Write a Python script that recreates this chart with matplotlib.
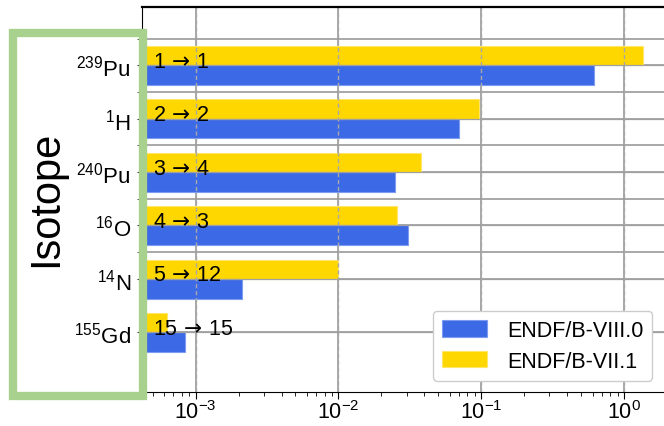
import matplotlib
matplotlib.use('Agg')
import matplotlib.pyplot as plt
import numpy as np
from matplotlib.patches import Rectangle

plt.rcParams['font.family'] = ['Liberation Sans', 'DejaVu Sans']
plt.rcParams['mathtext.fontset'] = 'custom'
plt.rcParams['mathtext.rm'] = 'Liberation Sans'
plt.rcParams['mathtext.it'] = 'Liberation Sans:italic'
plt.rcParams['mathtext.bf'] = 'Liberation Sans:bold'
plt.rcParams['mathtext.sf'] = 'DejaVu Sans'

# ---------------- data ----------------
isotopes = [r'$^{239}$Pu', r'$^{1}$H', r'$^{240}$Pu', r'$^{16}$O', r'$^{14}$N', r'$^{155}$Gd']
endf80 = [0.614, 0.070, 0.0247, 0.0307, 0.00212, 0.00085]
endf71 = [1.36, 0.097, 0.0379, 0.0256, 0.0100, 0.00063]
rank_labels = ['1 → 1', '2 → 2', '3 → 4', '4 → 3', '5 → 12', '15 → 15']
series_names = ['ENDF/B-VIII.0', 'ENDF/B-VII.1']
decades = [1e-3, 1e-2, 1e-1, 1e0]
ylabel_text = 'Isotope'

BLUE = '#3C69E5'
GOLD = '#FFD700'

fig = plt.figure(figsize=(6.64, 4.27), dpi=100)
ax = fig.add_axes([142 / 664, 1 - 393 / 427, 530 / 664, 385 / 427])

y = np.arange(len(isotopes))
b71 = ax.barh(y - 0.18, endf71, height=0.36, color=GOLD, edgecolor='#FFE66A',
              lw=0.8, zorder=2, label=series_names[1])
b80 = ax.barh(y + 0.185, endf80, height=0.37, color=BLUE, edgecolor='#7D9BF0',
              lw=0.8, zorder=2, label=series_names[0])

ax.set_xscale('log')
ax.set_xlim(4.22e-4, 2.16)
ax.set_ylim(6.12, -1.09)

ax.set_yticks(y)
ax.set_yticklabels(isotopes, fontsize=16)
ax.set_yticks(np.arange(-0.5, 4.0, 1.0), minor=True)
ax.tick_params(axis='y', which='both', length=3.5, pad=4.5, color='#333333')
ax.tick_params(axis='x', which='major', length=5, labelsize=15.5, pad=1)
ax.tick_params(axis='x', which='minor', length=3)

# grid behind bars
ax.set_axisbelow(True)
ax.grid(True, which='major', axis='both', color='#9a9a9a', lw=1.2)
ax.grid(True, which='minor', axis='y', color='#9a9a9a', lw=1.2)
# dashed grid drawn over the bars
for xv in decades:
    ax.axvline(xv, color='#a8a8a8', ls=(0, (3, 2)), lw=1.0, zorder=2.5)
for yi in y:
    ax.axhline(yi, color='#a0a0a0', lw=0.9, zorder=2.5)

for s in ax.spines.values():
    s.set_color('black')
ax.spines['top'].set_linewidth(1.6)

for i, lab in enumerate(rank_labels):
    shown = lab.replace(' → ', r'$\,\mathsf{\rightarrow}\,$')
    ax.annotate(shown, xy=(0, y[i]), xycoords=ax.get_yaxis_transform(),
                xytext=(7.7, -1.1), textcoords='offset points',
                fontsize=15.5, va='baseline', ha='left', zorder=4)

leg = ax.legend(handles=[b80, b71], loc='lower left',
                bbox_to_anchor=(432.7 / 664, 45.3 / 427), bbox_transform=fig.transFigure,
                borderaxespad=0, fontsize=15.5, handlelength=2.1, handleheight=0.8,
                handletextpad=0.93, labelspacing=0.45, borderpad=0.42,
                framealpha=1, edgecolor='#cccccc', fancybox=True)
leg.set_zorder(5)

fig.add_artist(Rectangle((12.5 / 664, 1 - 397 / 427), 130 / 664, 363 / 427,
                         transform=fig.transFigure, fill=False,
                         edgecolor='#A9D18E', lw=6, zorder=10))
fig.text(46 / 664, 1 - 199 / 427, ylabel_text, rotation=90, fontsize=30,
         ha='center', va='center', color='black')

fig.savefig('out.png', dpi=100)
